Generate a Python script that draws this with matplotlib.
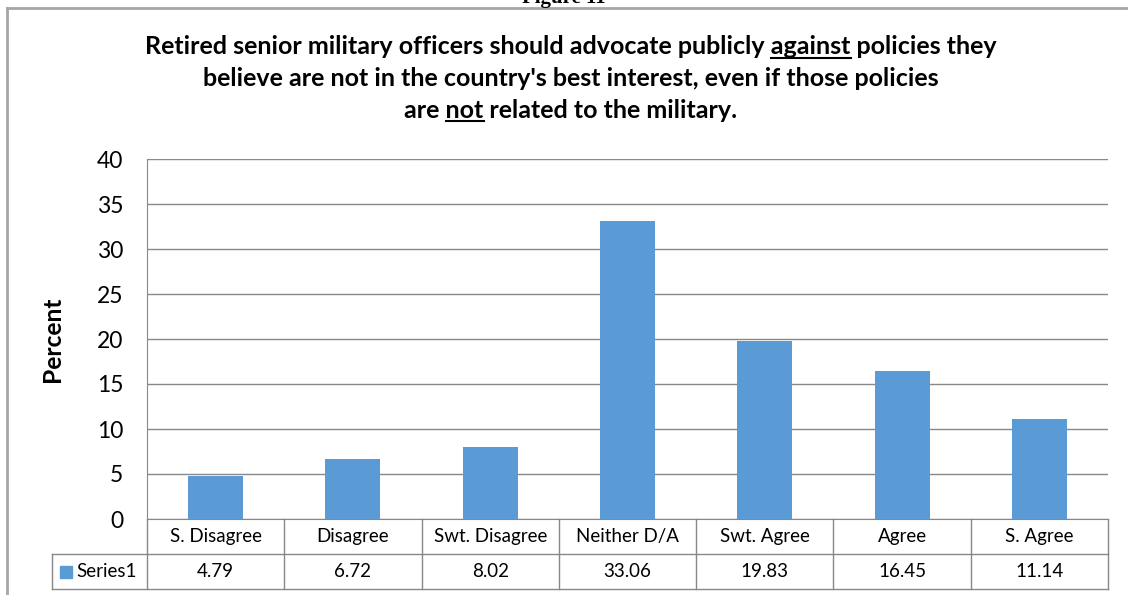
import matplotlib
matplotlib.use("Agg")
import matplotlib.pyplot as plt
from matplotlib.patches import Rectangle
from matplotlib.lines import Line2D
import matplotlib.transforms as mtransforms

# data
categories = ["S. Disagree", "Disagree", "Swt. Disagree", "Neither D/A",
              "Swt. Agree", "Agree", "S. Agree"]
percent = [4.79, 6.72, 8.02, 33.06, 19.83, 16.45, 11.14]
series_name = "Series1"
y_ticks = [0, 5, 10, 15, 20, 25, 30, 35, 40]

title_lines = [
    [("Retired senior military officers should advocate publicly ", False),
     ("against", True), (" policies they", False)],
    [("believe are not in the country's best interest, even if those policies", False)],
    [("are ", False), ("not", True), (" related to the military.", False)],
]

plt.rcParams['font.family'] = ['Lato', 'DejaVu Sans']
bar_color = "#5b9bd5"
grid_color = "#888888"
title_size = 18
table_size = 13.5

W, H = 1128, 595
fig = plt.figure(figsize=(W / 100, H / 100), dpi=100)

# axes placed in pixel terms
left, right, top, bottom = 147, 1108, 159, 519
ax = fig.add_axes([left / W, 1 - bottom / H, (right - left) / W, (bottom - top) / H])

x = list(range(len(categories)))
ax.bar(x, percent, width=0.4, color=bar_color, zorder=3)
ax.set_xlim(-0.5, len(categories) - 0.5)
ax.set_ylim(0, 40)
ax.set_yticks(y_ticks)
ax.set_yticklabels([str(t) for t in y_ticks], fontsize=16.5)
ax.tick_params(axis='y', length=0, pad=17)
ax.set_xticks([])
ax.yaxis.grid(True, color=grid_color, linewidth=1, zorder=0)
for s in ["top", "right"]:
    ax.spines[s].set_visible(False)
ax.spines["left"].set_color(grid_color)
ax.spines["bottom"].set_color(grid_color)
ax.set_ylabel("Percent", fontsize=17.7, fontweight="bold", labelpad=24)

# data table under the plot
tr = mtransforms.blended_transform_factory(ax.transData, ax.transAxes)
row_h = 35 / (bottom - top)
lab_w = 95 / 137
lc = grid_color
for i, (c, v) in enumerate(zip(categories, percent)):
    ax.text(i, -row_h / 2, c, transform=tr, ha="center", va="center", fontsize=table_size)
    ax.text(i, -row_h * 1.5, f"{v:.2f}", transform=tr, ha="center", va="center",
            fontsize=table_size)
for xb in [i - 0.5 for i in range(len(categories) + 1)]:
    ax.add_line(Line2D([xb, xb], [0, -2 * row_h], transform=tr, color=lc, lw=1, clip_on=False))
ax.add_line(Line2D([-0.5, 6.5], [-row_h, -row_h], transform=tr, color=lc, lw=1, clip_on=False))
ax.add_line(Line2D([-0.5 - lab_w, 6.5], [-2 * row_h, -2 * row_h], transform=tr, color=lc, lw=1, clip_on=False))
ax.add_line(Line2D([-0.5 - lab_w, -0.5], [-row_h, -row_h], transform=tr, color=lc, lw=1, clip_on=False))
ax.add_line(Line2D([-0.5 - lab_w, -0.5 - lab_w], [-row_h, -2 * row_h], transform=tr, color=lc, lw=1, clip_on=False))
ax.add_patch(Rectangle((-0.5 - lab_w + 8 / 137, -1.5 * row_h - 6 / 360), 12 / 137, 12 / 360,
                       transform=tr, color=bar_color, clip_on=False))
ax.text(-0.5 - lab_w + 24 / 137, -row_h * 1.5, series_name, transform=tr, ha="left",
        va="center", fontsize=table_size)

# outer frame of the chart object
fig.add_artist(Line2D([7 / W, 1], [1 - 8 / H, 1 - 8 / H], color="#a6a6a6", lw=2))
fig.add_artist(Line2D([7 / W, 7 / W], [1 - 8 / H, 0], color="#a6a6a6", lw=2))

# caption above the frame, cut off by the page edge as in the source
fig.text(0.5, 1 - 3 / H, "Figure 11", ha="center", va="baseline", fontsize=15,
         fontweight="bold", family=["Liberation Serif", "DejaVu Serif"])

# title with underlined words
fig.canvas.draw()
renderer = fig.canvas.get_renderer()


def text_width(s):
    t = fig.text(0, 0, s, fontsize=title_size, fontweight="bold")
    w = t.get_window_extent(renderer).width
    t.remove()
    return w


title_cx = 571
line_y = [47, 78, 110]
for parts, yc in zip(title_lines, line_y):
    full = "".join(p for p, _ in parts)
    fig.text(title_cx / W, 1 - yc / H, full, ha="center", va="center", fontsize=title_size,
             fontweight="bold")
    total = text_width(full)
    x0 = title_cx - total / 2
    prefix = ""
    for p, und in parts:
        if und:
            xs = x0 + text_width(prefix + p) - text_width(p)
            xe = x0 + text_width(prefix + p)
            fig.add_artist(Line2D([xs / W, xe / W], [1 - (yc + 11) / H] * 2,
                                  color="black", lw=1.5))
        prefix += p

fig.savefig("out.png", dpi=100)
